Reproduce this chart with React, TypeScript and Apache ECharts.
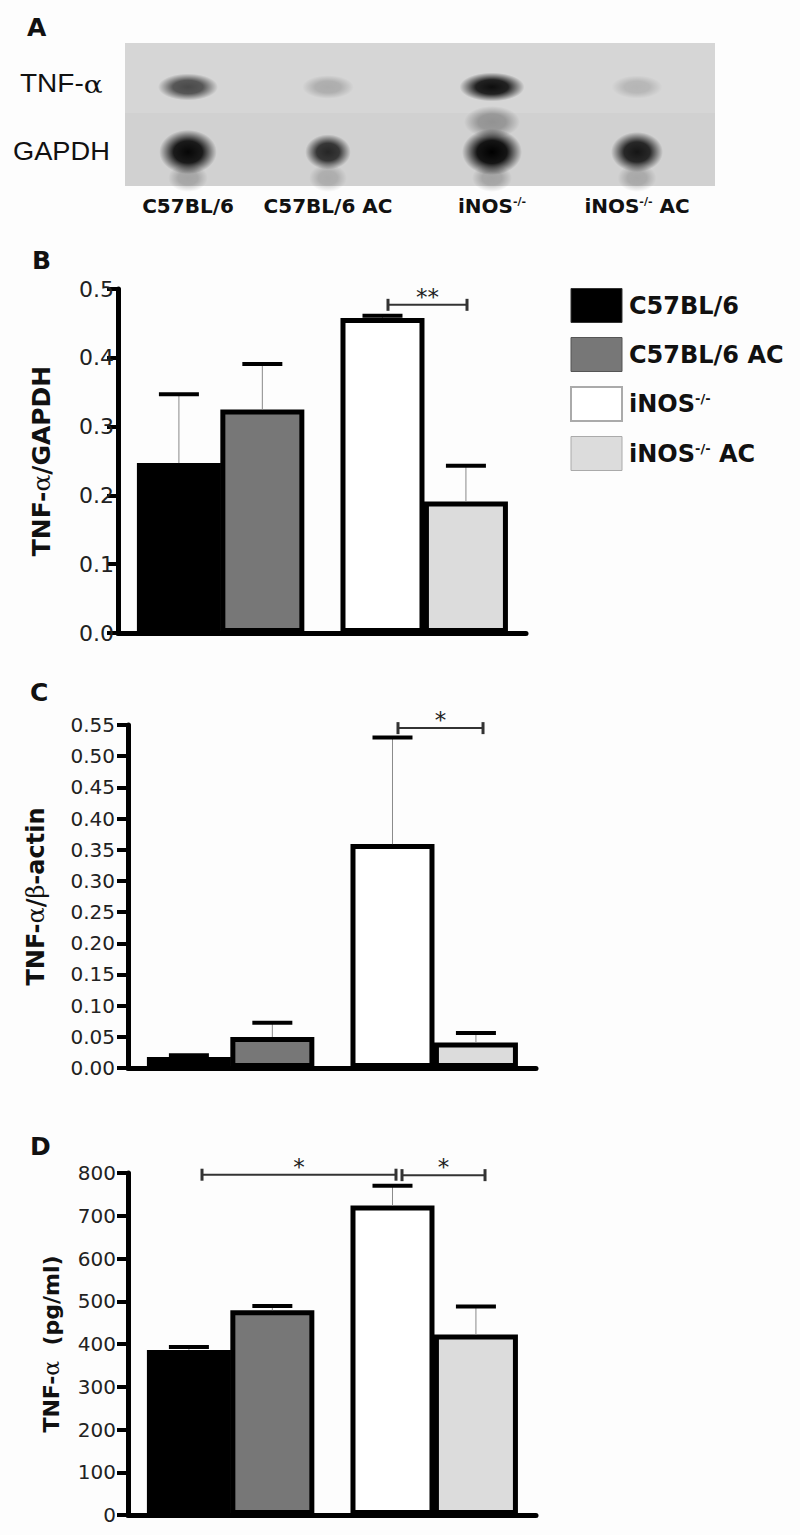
import React, { useEffect, useRef } from 'react';
import * as echarts from 'echarts';

// ---------- data ----------
const groups = ['C57BL/6', 'C57BL/6 AC', 'iNOS-/-', 'iNOS-/- AC'];

// Panel A: relative band intensities (0..1)
const tnfSignal = [0.6, 0.18, 0.85, 0.14];
const gapdhSignal = [0.97, 0.82, 1.0, 0.9];

// Panel B: TNF-α/GAPDH
const gapdhRatioMean = [0.247, 0.325, 0.458, 0.191];
const gapdhRatioErr = [0.1, 0.066, 0.003, 0.052];
const gapdhAxis = [0, 0.5, 0.1];
const gapdhBrackets = [{ x1: 2.506, x2: 3.453, y: 0.477, label: '**' }];

// Panel C: TNF-α/β-actin
const actinRatioMean = [0.0176, 0.0497, 0.359, 0.041];
const actinRatioErr = [0.003, 0.023, 0.171, 0.015];
const actinAxis = [0, 0.55, 0.05];
const actinBrackets = [{ x1: 2.506, x2: 3.525, y: 0.545, label: '*' }];

// Panel D: TNF-α (pg/ml)
const proteinMean = [386, 479, 724, 422];
const proteinErr = [7, 10, 46, 66];
const proteinAxis = [0, 800, 100];
const proteinBrackets = [
  { x1: 0.157, x2: 2.482, y: 796, label: '*' },
  { x1: 2.554, x2: 3.549, y: 795, label: '*' },
];

// ---------- layout / style ----------
const barPos = [0, 1, 2.44, 3.44];
const X_MIN = -0.73;
const X_MAX = 4.16;
const fills = ['#000000', '#777777', '#ffffff', '#dcdcdc'];
const legendBorders = ['#333333', '#555555', '#aaaaaa', '#aaaaaa'];
const laneX = [188, 328, 492, 637];
const FONT = 'DejaVu Sans';

function App() {
  const ref = useRef<HTMLDivElement>(null);

  useEffect(() => {
    if (!ref.current) return;
    const chart = echarts.init(ref.current, undefined, { renderer: 'svg' });

    const grids = [
      { left: 118, top: 289, width: 408, height: 344 },
      { left: 128, top: 725, width: 408, height: 343 },
      { left: 128, top: 1173, width: 408, height: 342 },
    ];
    const axes = [gapdhAxis, actinAxis, proteinAxis];
    const fmts = [
      (v: number) => v.toFixed(1),
      (v: number) => v.toFixed(2),
      (v: number) => String(Math.round(v)),
    ];
    const margins = [4, 13, 12];
    const labelSizes = [22, 20, 20];
    const names = [
      '{b|TNF-}{g|α}{b|/GAPDH}',
      '{b|TNF-}{g|α}{b|/}{g|β}{b|-actin}',
      '{b|TNF-}{g|α}{b|  (pg/ml)}',
    ];
    const nameSizes = [25, 24, 22];
    const nameGaps = [64, 80, 66];

    const xAxes = grids.map((_, i) => ({
      type: 'value',
      gridIndex: i,
      min: X_MIN,
      max: X_MAX,
      axisLine: { show: true, onZero: false, lineStyle: { color: '#000', width: 5 } },
      axisTick: { show: false },
      axisLabel: { show: false },
      splitLine: { show: false },
    }));

    const yAxes = grids.map((_, i) => ({
      type: 'value',
      gridIndex: i,
      min: axes[i][0],
      max: axes[i][1],
      interval: axes[i][2],
      name: names[i],
      nameLocation: 'middle',
      nameRotate: 90,
      nameGap: nameGaps[i],
      nameTextStyle: {
        rich: {
          b: { fontFamily: FONT, fontWeight: 'bold', fontSize: nameSizes[i], color: '#111' },
          g: { fontFamily: 'DejaVu Serif', fontWeight: 'normal', fontSize: nameSizes[i], color: '#111' },
        },
      },
      axisLine: { show: true, onZero: false, lineStyle: { color: '#000', width: 5 } },
      axisTick: { show: true, inside: false, length: 11, lineStyle: { color: '#000', width: 4 } },
      axisLabel: {
        fontFamily: FONT,
        fontSize: labelSizes[i],
        color: '#222',
        margin: margins[i],
        formatter: fmts[i],
      },
      splitLine: { show: false },
    }));

    const means = [gapdhRatioMean, actinRatioMean, proteinMean];
    const errs = [gapdhRatioErr, actinRatioErr, proteinErr];
    const brackets = [gapdhBrackets, actinBrackets, proteinBrackets];

    const series: any[] = [];
    grids.forEach((_, gi) => {
      groups.forEach((g, i) => {
        series.push({
          type: 'bar',
          name: g,
          xAxisIndex: gi,
          yAxisIndex: gi,
          barWidth: 84,
          barGap: '-100%',
          z: 2,
          silent: true,
          itemStyle: { color: fills[i], borderColor: '#000', borderWidth: 5 },
          data: [[barPos[i], means[gi][i]]],
        });
      });
      series.push({
        type: 'custom',
        xAxisIndex: gi,
        yAxisIndex: gi,
        z: 5,
        silent: true,
        data: means[gi].map((m, i) => [barPos[i], m, m + errs[gi][i]]),
        encode: { x: 0, y: [1, 2] },
        renderItem: (params: any, api: any) => {
          const x = api.value(0);
          const a = api.coord([x, api.value(1)]);
          const b = api.coord([x, api.value(2)]);
          return {
            type: 'group',
            children: [
              {
                type: 'line',
                shape: { x1: a[0], y1: a[1], x2: b[0], y2: b[1] },
                style: { stroke: '#8a8a8a', lineWidth: 1 },
              },
              {
                type: 'line',
                shape: { x1: b[0] - 20, y1: b[1], x2: b[0] + 20, y2: b[1] },
                style: { stroke: '#000', lineWidth: 4 },
              },
            ],
          };
        },
      });
      const br = brackets[gi];
      series.push({
        type: 'custom',
        xAxisIndex: gi,
        yAxisIndex: gi,
        z: 5,
        silent: true,
        data: br.map((d) => [d.x1, d.x2, d.y]),
        encode: { x: [0, 1], y: 2 },
        renderItem: (params: any, api: any) => {
          const p1 = api.coord([api.value(0), api.value(2)]);
          const p2 = api.coord([api.value(1), api.value(2)]);
          const label = br[params.dataIndex].label;
          return {
            type: 'group',
            children: [
              {
                type: 'line',
                shape: { x1: p1[0], y1: p1[1], x2: p2[0], y2: p2[1] },
                style: { stroke: '#333', lineWidth: 2 },
              },
              {
                type: 'line',
                shape: { x1: p1[0], y1: p1[1] - 6, x2: p1[0], y2: p1[1] + 6 },
                style: { stroke: '#333', lineWidth: 3 },
              },
              {
                type: 'line',
                shape: { x1: p2[0], y1: p2[1] - 6, x2: p2[0], y2: p2[1] + 6 },
                style: { stroke: '#333', lineWidth: 3 },
              },
              {
                type: 'text',
                x: (p1[0] + p2[0]) / 2,
                y: p1[1] - 8,
                style: {
                  text: label,
                  align: 'center',
                  verticalAlign: 'middle',
                  fontSize: 23,
                  fontFamily: FONT,
                  fill: '#222',
                },
              },
            ],
          };
        },
      });
    });

    // ---------- blot (panel A) ----------
    const band = (cx: number, cy: number, rx: number, ry: number, a: number) => ({
      type: 'ellipse',
      silent: true,
      shape: { cx, cy, rx, ry },
      style: {
        fill: new echarts.graphic.RadialGradient(0.5, 0.5, 0.5, [
          { offset: 0, color: `rgba(0,0,0,${a})` },
          { offset: 0.5, color: `rgba(0,0,0,${a * 0.9})` },
          { offset: 1, color: 'rgba(0,0,0,0)' },
        ]),
      },
    });
    const blot: any[] = [
      { type: 'rect', silent: true, shape: { x: 125, y: 43, width: 590, height: 70 }, style: { fill: '#d6d6d6' } },
      { type: 'rect', silent: true, shape: { x: 125, y: 113, width: 590, height: 73 }, style: { fill: '#d1d1d1' } },
    ];
    laneX.forEach((cx, i) => {
      const t = tnfSignal[i];
      const g = gapdhSignal[i];
      blot.push(band(cx, 178, 14 + 6 * g, 14, 0.22 * g));
      if (i === 2) blot.push(band(cx, 122, 28, 16, 0.3));
      blot.push(band(cx, 87, 24 + 10 * t, 11 + 4 * t, Math.min(1, t * 1.1)));
      blot.push(band(cx, 152, 22 + 40 * (g - 0.8), 17 + 30 * (g - 0.8), g));
    });

    const supRich = {
      sup: { fontFamily: FONT, fontWeight: 'bold', fontSize: 11, verticalAlign: 'top', padding: [0, 0, 8, 0] },
    };
    const laneLabels = ['C57BL/6', 'C57BL/6 AC', 'iNOS{sup|-/-}', 'iNOS{sup|-/-} AC'];
    laneLabels.forEach((t, i) => {
      blot.push({
        type: 'text',
        silent: true,
        x: laneX[i],
        y: 206,
        style: {
          text: t,
          align: 'center',
          verticalAlign: 'middle',
          fontFamily: FONT,
          fontWeight: 'bold',
          fontSize: 20,
          fill: '#111',
          rich: supRich,
        },
      });
    });
    blot.push({
      type: 'text',
      silent: true,
      x: 20,
      y: 84,
      scaleX: 1.12,
      style: {
        text: '{n|TNF-}{g|α}',
        align: 'left',
        verticalAlign: 'middle',
        rich: {
          n: { fontFamily: 'Liberation Sans', fontSize: 25, fill: '#111' },
          g: { fontFamily: 'DejaVu Serif', fontSize: 25, fill: '#111' },
        },
      },
    });
    blot.push({
      type: 'text',
      silent: true,
      x: 13,
      y: 151,
      scaleX: 1.09,
      style: {
        text: 'GAPDH',
        align: 'left',
        verticalAlign: 'middle',
        fontFamily: 'Liberation Sans',
        fontSize: 25,
        fill: '#111',
      },
    });
    const letters = [
      ['A', 27, 27],
      ['B', 32, 260],
      ['C', 30, 692],
      ['D', 30, 1146],
    ];
    letters.forEach(([t, x, y]) => {
      blot.push({
        type: 'text',
        silent: true,
        x: x as number,
        y: y as number,
        style: {
          text: t as string,
          align: 'left',
          verticalAlign: 'middle',
          fontFamily: FONT,
          fontWeight: 'bold',
          fontSize: 25,
          fill: '#111',
        },
      });
    });

    chart.setOption({
      animation: false,
      backgroundColor: '#fdfdfd',
      grid: grids.map((g) => ({ ...g, containLabel: false })),
      xAxis: xAxes,
      yAxis: yAxes,
      legend: {
        orient: 'vertical',
        left: 570,
        top: 288,
        padding: 0,
        itemWidth: 51,
        itemHeight: 34,
        itemGap: 14,
        selectedMode: false,
        data: groups.map((g, i) => ({
          name: g,
          icon: 'rect',
          itemStyle: { color: fills[i], borderColor: legendBorders[i], borderWidth: i === 2 ? 2 : 1 },
        })),
        formatter: (n: string) => n.replace('-/-', '{sup|-/-}'),
        textStyle: {
          fontFamily: FONT,
          fontWeight: 'bold',
          fontSize: 24,
          color: '#111',
          padding: [0, 0, 0, 2],
          rich: {
            sup: { fontFamily: FONT, fontWeight: 'bold', fontSize: 13, verticalAlign: 'top', padding: [0, 0, 10, 0] },
          },
        },
      },
      graphic: blot,
      series,
    });

    return () => chart.dispose();
  }, []);

  return (
    <div
      ref={ref}
      style={{ position: 'absolute', left: 0, top: 0, width: 800, height: 1535 }}
    />
  );
}

export default App;
